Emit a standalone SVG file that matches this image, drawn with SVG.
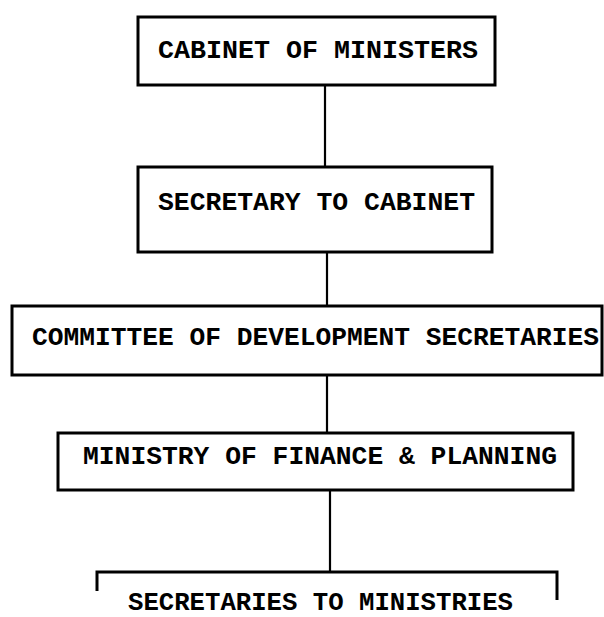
<svg xmlns="http://www.w3.org/2000/svg" width="604" height="617" viewBox="0 0 604 617">
  <style>
    .box { fill: #fff; stroke: #000; stroke-width: 3; }
    .lbl { font-family: "Liberation Mono", "DejaVu Sans Mono", monospace; font-weight: bold; font-size: 25px; fill: #000; }
    .link { stroke: #000; stroke-width: 2.2; fill: none; }
    .bar { stroke: #000; stroke-width: 3; fill: none; }
  </style>
  <rect width="604" height="617" fill="#fff"/>

  <g id="connectors">
    <line class="link" x1="325" y1="86" x2="325" y2="167"/>
    <line class="link" x1="327" y1="252" x2="327" y2="306"/>
    <line class="link" x1="327" y1="375" x2="327" y2="433"/>
    <line class="link" x1="330" y1="490" x2="330" y2="572"/>
  </g>

  <g id="cabinet">
    <rect class="box" x="138" y="17" width="357" height="68"/>
    <text class="lbl" x="158" y="58" textLength="320" lengthAdjust="spacingAndGlyphs">CABINET OF MINISTERS</text>
  </g>

  <g id="secretary-cabinet">
    <rect class="box" x="138" y="167" width="354" height="85"/>
    <text class="lbl" x="158" y="210" textLength="317" lengthAdjust="spacingAndGlyphs">SECRETARY TO CABINET</text>
  </g>

  <g id="development-committee">
    <rect class="box" x="12" y="306" width="590" height="69"/>
    <text class="lbl" x="32" y="345" textLength="567" lengthAdjust="spacingAndGlyphs">COMMITTEE OF DEVELOPMENT SECRETARIES</text>
  </g>

  <g id="finance-planning">
    <rect class="box" x="58" y="433" width="515" height="57"/>
    <text class="lbl" x="83" y="464" textLength="474" lengthAdjust="spacingAndGlyphs">MINISTRY OF FINANCE &amp; PLANNING</text>
  </g>

  <g id="ministries">
    <path class="bar" d="M97,591 V572 H557 V600"/>
    <text class="lbl" x="128" y="610" textLength="385" lengthAdjust="spacingAndGlyphs">SECRETARIES TO MINISTRIES</text>
  </g>
</svg>
